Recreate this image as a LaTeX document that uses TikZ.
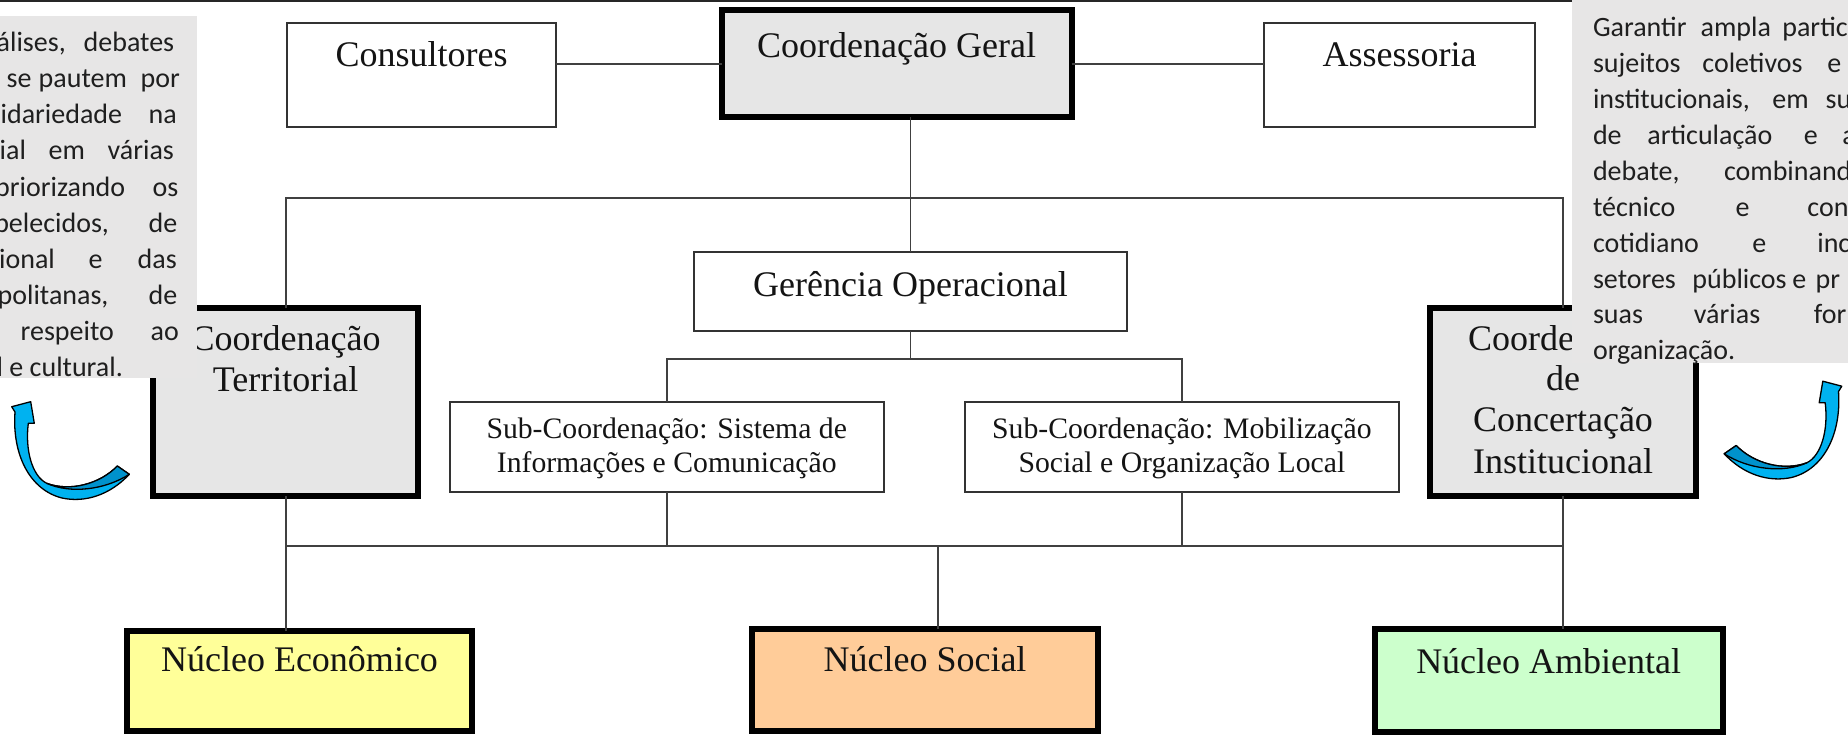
\documentclass[tikz,border=0pt]{standalone}
\usepackage{fontspec}
\setmainfont{Liberation Serif}
\newfontfamily\notefont{Carlito}
\definecolor{boxgray}{HTML}{E6E6E6}
\definecolor{notegray}{HTML}{E7E6E6}
\definecolor{econ}{HTML}{FFFF99}
\definecolor{soc}{HTML}{FFCC99}
\definecolor{amb}{HTML}{CCFFCC}
\definecolor{arrlight}{RGB}{0,178,240}
\definecolor{arrdark}{RGB}{0,146,204}
\newcommand{\wat}[2]{\makebox[0pt][l]{\hspace*{#1pt}#2}}
\begin{document}
\begin{tikzpicture}[x=1pt,y=-1pt,
  thickbox/.style={draw=black, line width=6pt, inner sep=0pt, outer sep=0pt},
  thinbox/.style={draw=black!80, line width=1.8pt, fill=white, inner sep=0pt, outer sep=0pt},
  conn/.style={draw=black!75, line width=1.8pt},
  lbl/.style={font=\fontsize{36}{40}\selectfont, text=black!92, inner sep=0pt, anchor=base},
  sublbl/.style={font=\fontsize{29.7}{34}\selectfont, text=black!92, inner sep=0pt, anchor=base},
  note/.style={font=\notefont\fontsize{28}{36}\selectfont, text=black!88, inner sep=0pt, anchor=base west},
  notebox/.style={fill=notegray, inner sep=0pt, outer sep=0pt, anchor=north west},
  curvarrow/.pic={
    \path[fill=arrlight, draw=black, line width=1.3pt, line join=round]
      (129.3,474.3) .. controls (110,495) and (85,503) .. (62,498)
      .. controls (30,490) and (12,455) .. (15,412)
      -- (11.7,406.7) -- (30.7,401.7) -- (34.3,423.3) -- (28.3,423.3)
      .. controls (25,450) and (32,476) .. (46.7,483.3)
      .. controls (70,492) and (100,484) .. (117.3,466) -- cycle;
    \path[fill=arrdark, draw=black, line width=1.3pt, line join=round]
      (117.3,466) .. controls (100,484) and (70,492) .. (46.7,483.3)
      .. controls (70,494) and (105,490) .. (129.3,474.3) -- cycle;
  }
]
\clip (0,0) rectangle (1848,741);
\fill[white] (0,0) rectangle (1848,741);

% top page rule
\coordinate (tl) at (0,1);
\coordinate (tr) at (1848,1);
\draw[line width=2pt, black!85] (tl) -- (tr);

% boxes
\node[thickbox, fill=boxgray, minimum width=349.8pt, minimum height=107.2pt] (CG) at (896.6,63.9) {};
\node[thinbox, minimum width=269.2pt, minimum height=104.2pt] (Cons) at (421.5,75) {};
\node[thinbox, minimum width=271.2pt, minimum height=104.2pt] (Asse) at (1399.5,75) {};
\node[thinbox, minimum width=433.2pt, minimum height=79.2pt] (GO) at (910.5,291.5) {};
\node[thickbox, fill=boxgray, minimum width=265.3pt, minimum height=188pt] (CT) at (285.6,402) {};
\node[thickbox, fill=boxgray, minimum width=265.5pt, minimum height=188.6pt] (CCI) at (1563,402) {};
\node[thinbox, minimum width=433.7pt, minimum height=90pt] (Sub1) at (666.75,446.6) {};
\node[thinbox, minimum width=433.4pt, minimum height=90pt] (Sub2) at (1181.9,446.6) {};
\node[thickbox, fill=econ, minimum width=344.5pt, minimum height=100pt] (NE) at (299.5,681) {};
\node[thickbox, fill=soc, minimum width=346.3pt, minimum height=101.7pt] (NS) at (925,680.2) {};
\node[thickbox, fill=amb, minimum width=348pt, minimum height=103pt] (NA) at (1548.7,680.8) {};

% connectors
\coordinate (h1) at (910.5,198);
\coordinate (h2) at (910.5,358.7);
\coordinate (h3) at (938,545.7);
\draw[conn] (CG.west) -- (CG.west -| Cons.east);
\draw[conn] (CG.east) -- (CG.east -| Asse.west);
\draw[conn] (CG.south -| GO.north) -- (GO.north);
\draw[conn] (CT.north) -- (CT.north |- h1) -- (CCI.north |- h1) -- (CCI.north);
\draw[conn] (GO.south) -- (h2);
\draw[conn] (Sub1.north) -- (Sub1.north |- h2) -- (Sub2.north |- h2) -- (Sub2.north);
\draw[conn] (CT.south) -- (CT.south |- NE.north);
\draw[conn] (CCI.south) -- (CCI.south |- NA.north);
\draw[conn] (CT.south |- h3) -- (CCI.south |- h3);
\draw[conn] (Sub1.south) -- (Sub1.south |- h3);
\draw[conn] (Sub2.south) -- (Sub2.south |- h3);
\draw[conn] (h3) -- (h3 |- NS.north);

% labels
\node[lbl] (tCons) at (421.5,66.7) {Consultores};
\node[lbl] (tAsse) at (1399.5,66.7) {Assessoria};
\node[lbl] (tCG) at (896.6,57.3) {Coordenação Geral};
\node[lbl] (tGO) at (910.5,296.7) {Gerência Operacional};
\node[sublbl] (tS1a) at (666.75,438.3) {Sub-Coordenação: Sistema de};
\node[sublbl] (tS1b) at (666.75,472.7) {Informações e Comunicação};
\node[sublbl] (tS2a) at (1181.9,438.3) {Sub-Coordenação: Mobilização};
\node[sublbl] (tS2b) at (1181.9,472.7) {Social e Organização Local};
\node[lbl] (tCTa) at (285.6,350) {Coordenação};
\node[lbl] (tCTb) at (285.6,391.7) {Territorial};
\node[lbl] (tCIa) at (1563,350.7) {Coordenação};
\node[lbl] (tCIb) at (1563,390.7) {de};
\node[lbl] (tCIc) at (1563,431.7) {Concertação};
\node[lbl] (tCId) at (1563,473.3) {Institucional};
\node[lbl] (tNE) at (299.5,671.7) {Núcleo Econômico};
\node[lbl] (tNS) at (925,671.7) {Núcleo Social};
\node[lbl] (tNA) at (1548.7,673.3) {Núcleo Ambiental};

% side notes
\node[notebox, minimum width=197pt, minimum height=362pt] (noteL) at (0,16) {};
\node[notebox, minimum width=277pt, minimum height=363pt] (noteR) at (1571.7,0) {};

\node[note] (L1) at (0,51.7) {\wat{-4}{álises,}\wat{83}{debates}};
\node[note] (L2) at (0,87.8) {\wat{6}{se}\wat{38}{pautem}\wat{140}{por}};
\node[note] (L3) at (0,123.9) {\wat{0}{idariedade}\wat{148}{na}};
\node[note] (L4) at (0,160) {\wat{-1}{ial}\wat{48}{em}\wat{107}{várias}};
\node[note] (L5) at (0,196.1) {\wat{-5.5}{priorizando}\wat{152}{os}};
\node[note] (L6) at (0,232.2) {\wat{-6.4}{belecidos,}\wat{148}{de}};
\node[note] (L7) at (0,268.3) {\wat{-1.5}{ional}\wat{88}{e}\wat{137}{das}};
\node[note] (L8) at (0,304.4) {\wat{-3}{politanas,}\wat{148}{de}};
\node[note] (L9) at (0,340.5) {\wat{20}{respeito}\wat{150}{ao}};
\node[note] (L10) at (0,376.6) {\wat{-4}{l e cultural.}};

\node[note] (R1) at (1592.3,36.7) {\wat{0}{Garantir}\wat{107.7}{ampla}\wat{189.4}{partic}};
\node[note] (R2) at (1592.3,72.6) {\wat{0}{sujeitos}\wat{109.4}{coletivos}\wat{234.4}{e}};
\node[note] (R3) at (1592.3,108.5) {\wat{0}{institucionais,}\wat{179.4}{em}\wat{232.7}{su}};
\node[note] (R4) at (1592.3,144.4) {\wat{0}{de}\wat{54.4}{articulação}\wat{211}{e}\wat{249.4}{a}};
\node[note] (R5) at (1592.3,180.3) {\wat{0}{debate,}\wat{131}{combinand}};
\node[note] (R6) at (1592.3,216.2) {\wat{0}{técnico}\wat{142.7}{e}\wat{214.4}{con}};
\node[note] (R7) at (1592.3,252.1) {\wat{0}{cotidiano}\wat{159.4}{e}\wat{224.4}{inc}};
\node[note] (R8) at (1592.3,288) {\wat{0}{setores}\wat{99.4}{públicos}\wat{199.4}{e}\wat{222.7}{pr}};
\node[note] (R9) at (1592.3,323.9) {\wat{0}{suas}\wat{101}{várias}\wat{221}{for}};
\node[note] (R10) at (1592.3,359.8) {\wat{0}{organização.}};

% curved arrows
\pic (arrL) at (0,0) {curvarrow};
\pic[xscale=-1] (arrR) at (1853.5,-20.5) {curvarrow};
\end{tikzpicture}
\end{document}
